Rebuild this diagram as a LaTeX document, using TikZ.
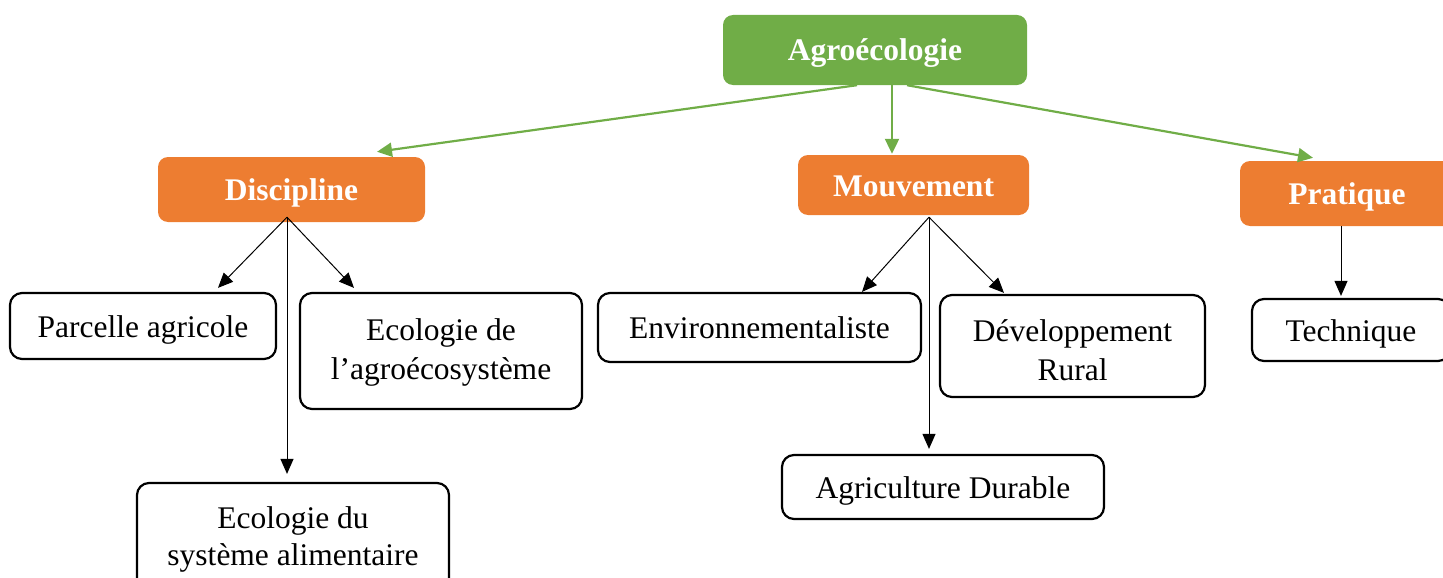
\documentclass[tikz,border=0pt]{standalone}
\usepackage{fontspec}
\setmainfont{Liberation Serif}
\usetikzlibrary{arrows.meta}
\definecolor{agrogreen}{HTML}{70AD47}
\definecolor{catorange}{HTML}{ED7D31}
\tikzset{
  topbox/.style={rectangle, rounded corners=10pt, fill=agrogreen, text=white, font=\fontsize{31.5}{39}\selectfont\bfseries, inner sep=0pt, text height=22pt, text depth=0pt},
  catbox/.style={rectangle, rounded corners=10pt, fill=catorange, text=white, font=\fontsize{31.5}{39}\selectfont\bfseries, inner sep=0pt, text height=22pt, text depth=-3pt},
  leafbox/.style={rectangle, rounded corners=12pt, draw=black, line width=2.2pt, fill=white, align=center, inner sep=0pt, font=\fontsize{31.5}{39}\selectfont, text height=22pt, text depth=0pt},
  garrow/.style={draw=agrogreen, line width=2.2pt, -{Triangle[length=15pt,width=14pt]}},
  barrow/.style={draw=black, line width=1pt, -{Triangle[length=15pt,width=13pt]}},
}
\begin{document}
\begin{tikzpicture}[x=1pt,y=-1pt]
\useasboundingbox (0,0) rectangle (1443,578);
\clip (0,0) rectangle (1443,578);
% top
\node[topbox, minimum width=304pt, minimum height=70pt] (agro) at (875,50) {Agroécologie};
% categories
\node[catbox, minimum width=267pt, minimum height=65pt] (disc) at (291.5,189.5) {Discipline};
\node[catbox, minimum width=231pt, minimum height=60pt, text depth=-6pt] (mouv) at (913.5,185) {Mouvement};
\node[catbox, minimum width=214pt, minimum height=65pt] (prat) at (1347,193.5) {Pratique};
% leaves
\node[leafbox, minimum width=266pt, minimum height=66pt] (parc) at (143,326) {Parcelle agricole};
\node[leafbox, minimum width=282pt, minimum height=116pt, text height=56pt] (agroeco) at (441,351) {Ecologie de\\l’agroécosystème};
\node[leafbox, minimum width=312pt, minimum height=107pt, font=\fontsize{31.5}{37}\selectfont, text height=57pt] (alim) at (293,536.5) {Ecologie du\\système alimentaire};
\node[leafbox, minimum width=323pt, minimum height=69pt, text depth=1pt] (env) at (759.5,327.5) {Environnementaliste};
\node[leafbox, minimum width=265pt, minimum height=102pt, text height=68pt] (dev) at (1072.5,346) {Développement\\Rural};
\node[leafbox, minimum width=322pt, minimum height=64pt, text depth=-1pt] (agri) at (943,487) {Agriculture Durable};
\node[leafbox, minimum width=198pt, minimum height=62pt, text depth=-1pt] (tech) at (1351,330) {Technique};
% green arrows
\draw[garrow] ([xshift=-18pt]agro.south) -- ([xshift=85.5pt,yshift=5pt]disc.north);
\draw[garrow] ([xshift=17pt]agro.south) -- ([xshift=-21.5pt,yshift=1pt]mouv.north);
\draw[garrow] ([xshift=32pt]agro.south) -- ([xshift=-34pt,yshift=3pt]prat.north);
% discipline
\coordinate (dsrc) at ([xshift=-4.5pt,yshift=5pt]disc.south);
\draw[barrow] (dsrc) -- ([xshift=75pt,yshift=4pt]parc.north);
\draw[barrow] (dsrc) -- ([xshift=-87pt,yshift=4pt]agroeco.north);
\draw[barrow] (dsrc) -- ([xshift=-6pt,yshift=8pt]alim.north);
% mouvement
\coordinate (msrc) at ([xshift=15.5pt,yshift=-2pt]mouv.south);
\draw[barrow] (msrc) -- ([xshift=102.5pt]env.north);
\draw[barrow] (msrc) -- ([xshift=-68.5pt,yshift=1pt]dev.north);
\draw[barrow] (msrc) -- ([xshift=-14pt,yshift=5pt]agri.north);
% pratique
\draw[barrow] ([xshift=-6pt]prat.south) -- ([xshift=-10pt,yshift=2pt]tech.north);
\end{tikzpicture}
\end{document}
